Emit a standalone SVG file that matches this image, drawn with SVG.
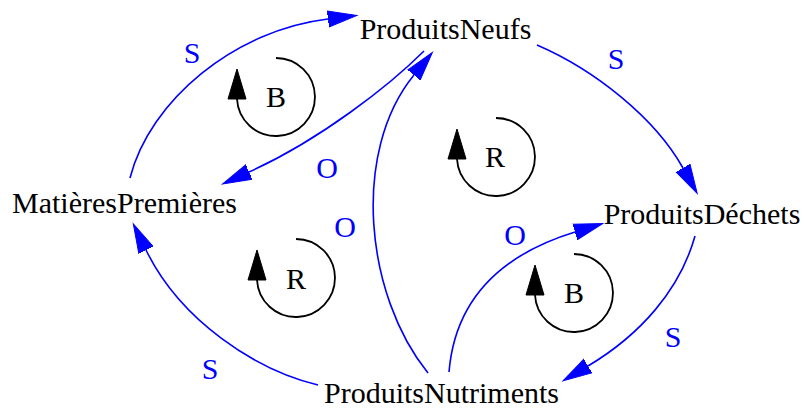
<svg xmlns="http://www.w3.org/2000/svg" width="804" height="408" viewBox="0 0 804 408">
<defs>
<style>
text{font-family:"Liberation Serif","Times New Roman",serif;font-size:30px;text-anchor:middle}
.node{fill:#000}
.lbl{fill:#0000ff}
.edge{fill:none;stroke:#0000ff;stroke-width:1.6;marker-end:url(#ah)}
.loop{fill:none;stroke:#000;stroke-width:1.8}
.lh{fill:#000;stroke:#000;stroke-width:1}
</style>
<marker id="ah" markerUnits="userSpaceOnUse" viewBox="0 -10 32 20" refX="0" refY="0" markerWidth="32" markerHeight="20" orient="auto">
<path d="M0,-8 L29,0 L0,8 z" fill="#0000ff" stroke="#0000ff" stroke-width="1"/>
</marker>
</defs>
<rect width="804" height="408" fill="#fff"/>
<g id="edges">
<path class="edge" d="M130,178 C150,100 235,30 328,19"/>
<path class="edge" d="M424,51 C390,85 320,140 249,172"/>
<path class="edge" d="M428,373 C365,295 351,152 414,75"/>
<path class="edge" d="M537,45 C595,70 655,118 683,168"/>
<path class="edge" d="M449,372 C455,300 500,255 575,232"/>
<path class="edge" d="M695,236 C680,290 640,335 588,366"/>
<path class="edge" d="M318,385 C255,370 180,320 146,250"/>
<text class="lbl" x="192" y="63">S</text>
<text class="lbl" x="327" y="178">O</text>
<text class="lbl" x="345" y="237">O</text>
<text class="lbl" x="616" y="69">S</text>
<text class="lbl" x="515" y="245">O</text>
<text class="lbl" x="673" y="347">S</text>
<text class="lbl" x="210" y="379">S</text>
</g>
<g id="loopB1">
<path class="loop" d="M276,58 A39,39 0 1 1 237,99"/>
<path class="lh" d="M237,69 L246,99 L228,99 z"/>
<text class="node" x="276" y="107">B</text>
</g>
<g id="loopR1">
<path class="loop" d="M496,118 A39,39 0 1 1 457,159"/>
<path class="lh" d="M457,129 L466,159 L448,159 z"/>
<text class="node" x="495" y="167">R</text>
</g>
<g id="loopR2">
<path class="loop" d="M296,239 A39,39 0 1 1 257,280"/>
<path class="lh" d="M257,250 L266,280 L248,280 z"/>
<text class="node" x="296" y="289">R</text>
</g>
<g id="loopB2">
<path class="loop" d="M574,254 A39,39 0 1 1 535,295"/>
<path class="lh" d="M535,265 L544,295 L526,295 z"/>
<text class="node" x="574" y="303">B</text>
</g>
<g id="ProduitsNeufs"><text class="node" x="445.5" y="39">ProduitsNeufs</text></g>
<g id="MatieresPremieres"><text class="node" x="124.5" y="213">MatièresPremières</text></g>
<g id="ProduitsDechets"><text class="node" x="702" y="224">ProduitsDéchets</text></g>
<g id="ProduitsNutriments"><text class="node" x="441.5" y="403">ProduitsNutriments</text></g>
</svg>
